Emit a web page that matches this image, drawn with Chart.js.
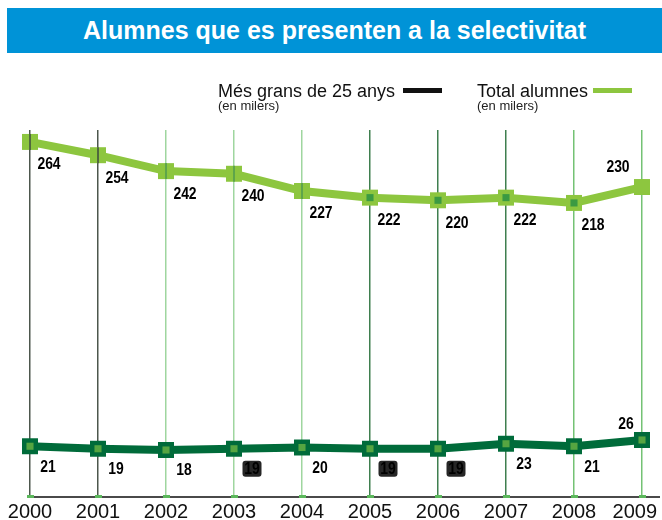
<!DOCTYPE html>
<html>
<head>
<meta charset="utf-8">
<title>Alumnes que es presenten a la selectivitat</title>
<script src="https://cdn.jsdelivr.net/npm/chart.js@4.4.0/dist/chart.umd.min.js"></script>
<style>
  html, body { margin: 0; padding: 0; background: #fff; }
  #wrap { position: relative; width: 662px; height: 520px; font-family: "Liberation Sans", Arial, sans-serif; }
  #chart { position: absolute; left: 0; top: 0; }
  #title {
    position: absolute; left: 7px; top: 8px; width: 655px; height: 45px;
    background: #0093d7; color: #fff; font-weight: bold; font-size: 25px;
    line-height: 45px; text-align: center;
  }
  .leg { position: absolute; color: #111; font-size: 18px; line-height: 18px; white-space: nowrap; }
  .sub { position: absolute; color: #222; font-size: 13px; line-height: 13px; white-space: nowrap; }
  .swatch { position: absolute; height: 5px; width: 39px; }
</style>
</head>
<body>
<div id="wrap">
  <canvas id="chart" width="662" height="520"></canvas>
  <div id="title">Alumnes que es presenten a la selectivitat</div>
  <div class="leg" style="left:218px; top:82px;">Més grans de 25 anys</div>
  <div class="swatch" style="left:403px; top:88px; background:#111;"></div>
  <div class="sub" style="left:218px; top:99px;">(en milers)</div>
  <div class="leg" style="left:477px; top:82px;">Total alumnes</div>
  <div class="swatch" style="left:593px; top:88px; background:#8dc63f;"></div>
  <div class="sub" style="left:477px; top:99px;">(en milers)</div>
</div>
<script>
const years = ['2000', '2001', '2002', '2003', '2004', '2005', '2006', '2007', '2008', '2009'];
const totalAlumnes = [264, 254, 242, 240, 227, 222, 220, 222, 218, 230];
const mesGrans25 = [21, 19, 18, 19, 20, 19, 19, 23, 21, 26];

const lightGreen = '#8dc63f';
const darkGreen = '#006b3a';
const gridColors = ['#4d574d', '#4d574d', '#9fd69f', '#9fd69f', '#9fd69f',
                    '#3f7f4f', '#3f7f4f', '#3f7f4f', '#74c274', '#74c274'];

// labels with the dark box behind them (index in mesGrans25)
const boxedLower = [3, 5, 6];

const valueLabels = {
    id: 'valueLabels',
    afterDatasetsDraw(chart) {
        const ctx = chart.ctx;
        ctx.save();

        // grid line showing through the first total markers
        chart.getDatasetMeta(0).data.forEach((pt, i) => {
            if (i > 4) return;
            ctx.strokeStyle = i < 2 ? '#3d4a3d' : '#4f9a4f';
            ctx.lineWidth = 1.5;
            ctx.beginPath();
            ctx.moveTo(pt.x, pt.y - 8);
            ctx.lineTo(pt.x, pt.y + 8);
            ctx.stroke();
        });

        ctx.font = 'bold 16px "Liberation Sans", Arial, sans-serif';
        ctx.textAlign = 'center';
        ctx.textBaseline = 'middle';

        const drawText = (txt, x, y) => {
            ctx.save();
            ctx.translate(x, y);
            ctx.scale(0.87, 1);
            ctx.fillStyle = '#000';
            ctx.fillText(txt, 0, 1);
            ctx.restore();
        };

        // total
        chart.getDatasetMeta(0).data.forEach((pt, i) => {
            const last = i === totalAlumnes.length - 1;
            drawText(String(totalAlumnes[i]), pt.x + (last ? -24 : 19), pt.y + (last ? -20 : 22));
        });

        // més grans de 25
        chart.getDatasetMeta(2).data.forEach((pt, i) => {
            const last = i === mesGrans25.length - 1;
            const x = pt.x + (last ? -16 : 18);
            const y = pt.y + (last ? -16 : 20);
            if (boxedLower.includes(i)) {
                ctx.fillStyle = '#262626';
                ctx.beginPath();
                ctx.roundRect(x - 9.5, y - 8, 19, 16, 3);
                ctx.fill();
            }
            drawText(String(mesGrans25[i]), x, y);
        });
        ctx.restore();
    }
};

const baseAxis = {
    id: 'baseAxis',
    afterDraw(chart) {
        const ctx = chart.ctx;
        const area = chart.chartArea;
        const xs = chart.scales.x;
        ctx.save();
        ctx.strokeStyle = '#4a4a4a';
        ctx.lineWidth = 2;
        ctx.beginPath();
        ctx.moveTo(area.left, area.bottom);
        ctx.lineTo(660, area.bottom);
        ctx.stroke();

        ctx.font = '20px "Liberation Sans", Arial, sans-serif';
        ctx.textAlign = 'center';
        ctx.textBaseline = 'alphabetic';
        years.forEach((yr, i) => {
            const x = xs.getPixelForValue(i);
            ctx.fillStyle = '#5cb85c';
            ctx.fillRect(x - 3, area.bottom - 2, 7, 3);
            const w = ctx.measureText(yr).width;
            const cx = Math.min(x, 657 - w / 2);
            ctx.fillStyle = '#111';
            ctx.fillText(yr, cx, 518);
        });
        ctx.restore();
    }
};

new Chart(document.getElementById('chart'), {
    type: 'line',
    data: {
        labels: years,
        datasets: [{
            label: 'Total alumnes',
            data: totalAlumnes,
            yAxisID: 'yTotal',
            borderColor: lightGreen,
            borderWidth: 8,
            pointStyle: 'rect',
            pointRadius: 11.3,
            pointBackgroundColor: lightGreen,
            pointBorderWidth: 0,
            clip: false,
            order: 2
        }, {
            label: 'Total alumnes (centre)',
            data: totalAlumnes,
            yAxisID: 'yTotal',
            showLine: false,
            pointStyle: 'rect',
            pointRadius: ctx => (ctx.dataIndex >= 5 && ctx.dataIndex <= 8 ? 5 : 0),
            pointBackgroundColor: '#3b9a42',
            pointBorderWidth: 0,
            clip: false,
            order: 1
        }, {
            label: 'Més grans de 25 anys',
            data: mesGrans25,
            yAxisID: 'yMes',
            borderColor: darkGreen,
            borderWidth: 8,
            pointStyle: 'rect',
            pointRadius: 11.3,
            pointBackgroundColor: darkGreen,
            pointBorderWidth: 0,
            clip: false,
            order: 2
        }, {
            label: 'Més grans de 25 anys (centre)',
            data: mesGrans25,
            yAxisID: 'yMes',
            showLine: false,
            pointStyle: 'rect',
            pointRadius: 5,
            pointBackgroundColor: '#56a541',
            pointBorderWidth: 0,
            clip: false,
            order: 1
        }]
    },
    options: {
        responsive: false,
        animation: false,
        layout: { padding: { left: 30, right: 20, top: 130, bottom: 23 } },
        plugins: {
            legend: { display: false },
            tooltip: { enabled: false }
        },
        scales: {
            x: {
                offset: false,
                grid: {
                    color: ctx => gridColors[ctx.index] || '#74c274',
                    lineWidth: 1.5,
                    drawTicks: false
                },
                border: { display: false },
                ticks: { display: false }
            },
            yTotal: { display: false, min: -3.7, max: 273 },
            yMes: { display: false, min: -19.6, max: 274 }
        }
    },
    plugins: [valueLabels, baseAxis]
});
</script>
</body>
</html>
